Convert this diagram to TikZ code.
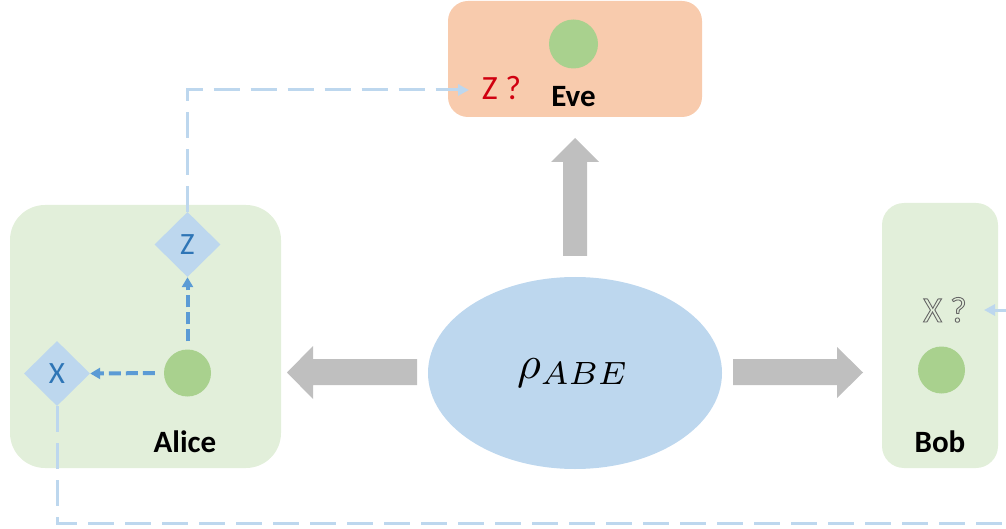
\documentclass[tikz,border=0pt]{standalone}
\usepackage{fontspec}
\setmainfont{Carlito}
\usetikzlibrary{shapes.geometric,arrows.meta}
\definecolor{evebg}{HTML}{F8CBAD}
\definecolor{boxbg}{HTML}{E2EFDA}
\definecolor{qgreen}{HTML}{A9D18E}
\definecolor{lblue}{HTML}{BDD7EE}
\definecolor{dblue}{HTML}{5B9BD5}
\definecolor{tblue}{HTML}{2E75B6}
\definecolor{bigarrow}{HTML}{BFBFBF}
\definecolor{zred}{HTML}{D00010}
\newcommand{\basisfont}{\fontsize{31}{33}\selectfont}
\tikzset{
  party/.style={draw=none, fill=boxbg, inner sep=0},
  qubit/.style={circle, fill=qgreen, draw=none, inner sep=0, minimum size=47pt},
  basis/.style={diamond, aspect=1, fill=lblue, draw=none, inner sep=0, minimum width=66pt, minimum height=65pt, text=tblue},
  bold lbl/.style={font=\fontsize{31}{36}\selectfont\bfseries, anchor=base, inner sep=0},
  classic/.style={draw=lblue, line width=3pt, dash pattern=on 26pt off 11pt, -{Triangle[length=11pt,width=11pt]}},
  meas/.style={draw=dblue, line width=4pt, dash pattern=on 12pt off 5pt, -{Triangle[length=10pt,width=11pt]}},
  blockarrow/.style={fill=bigarrow, draw=none}
}
\newcommand{\outlinetext}[1]{\special{pdf:literal direct 1 Tr 0.9 w 0.4 0.4 0.4 RG}#1\special{pdf:literal direct 0 Tr 1 w 0 0 0 RG}}
\begin{document}
\begin{tikzpicture}[x=1pt,y=-1pt]
\useasboundingbox (0,0) rectangle (1006,529);
\clip (0,0) rectangle (1006,529);
% boxes
\node[party, fill=evebg, minimum width=254pt, minimum height=116pt, rounded corners=20pt] (eve) at (575,59) {};
\node[party, minimum width=271pt, minimum height=263pt, rounded corners=35pt] (alice) at (145.5,336.5) {};
\node[party, minimum width=116pt, minimum height=265pt, rounded corners=22pt] (bob) at (940,335.5) {};
% state
\node[ellipse, fill=lblue, draw=none, minimum width=294pt, minimum height=192pt, inner sep=0] (rho) at (575,373) {};
\node[anchor=base, inner sep=0] (rholbl) at (573,378) {\scalebox{4.6}{$\rho_{ABE}$}};
% big arrows
\fill[blockarrow] (563,256) -- (563,162) -- (551,162) -- (575,138) -- (599,162) -- (587,162) -- (587,256) -- cycle;
\fill[blockarrow] (417,359) -- (313,359) -- (313,346) -- (287,372.5) -- (313,399) -- (313,385) -- (417,385) -- cycle;
\fill[blockarrow] (733,359) -- (837,359) -- (837,347) -- (863,372.5) -- (837,398) -- (837,385) -- (733,385) -- cycle;
% qubits
\node[qubit, minimum size=49pt] (qe) at (573.5,44) {};
\node[qubit] (qa) at (187.5,373) {};
\node[qubit] (qb) at (941.5,370) {};
% diamonds
\node[basis] (zd) at (187.5,244.5) {};
\node[basis] (xd) at (57,373.5) {};
\node[inner sep=0, text=tblue] (zdl) at (zd.center) {\basisfont Z};
\node[inner sep=0, text=tblue] (xdl) at (xd.center) {\basisfont X};
% labels
\node[bold lbl] (evelbl) at (573.5,107) {Eve};
\node[bold lbl] (alicelbl) at (185,452) {Alice};
\node[bold lbl] (boblbl) at (940,452) {Bob};
\node[anchor=base, inner sep=0, text=zred, font=\fontsize{34}{38}\selectfont] (zq) at (501.5,100) {Z ?};
\node[anchor=base, inner sep=0, text=white, font=\fontsize{36}{40}\selectfont] (xq) at (945,322) {\outlinetext{X ?}};
% measurement arrows
\draw[meas, shorten <=8pt] (qa.north) -- (zd.south);
\draw[meas, shorten <=9pt] (qa.west) -- (xd.east);
% classical channels
\coordinate (evein) at (469,90);
\coordinate (bobin) at (984,310);
\draw[classic] (zd.north) -- (zd.north |- evein) -- (evein);
\draw[classic] (xd.south) -- (57,523) -- (1040,523) -- (1040,310) -- (bobin);
\end{tikzpicture}
\end{document}
